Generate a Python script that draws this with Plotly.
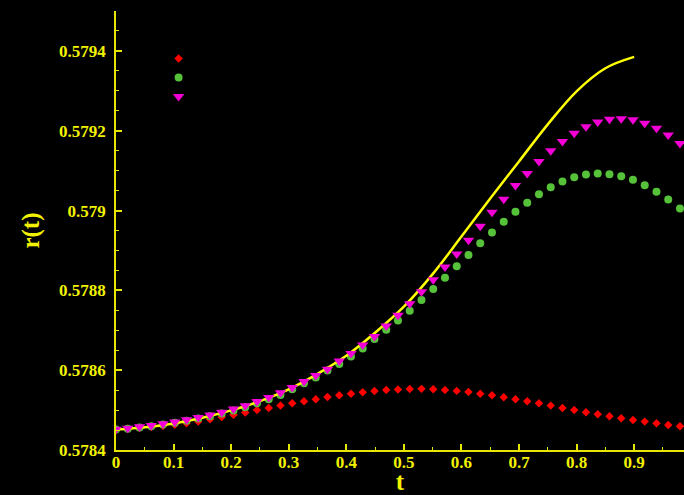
import numpy as np
import plotly.graph_objects as go

# time grid of the sampled series (step 1/49)
t_points = [k / 49 for k in range(49)]

r_red = [0.5784515, 0.5784532, 0.5784552, 0.5784577, 0.5784603, 0.5784633, 0.5784670,
         0.5784716, 0.5784771, 0.5784824, 0.5784884, 0.5784942, 0.5785002, 0.5785052,
         0.5785115, 0.5785170, 0.5785223, 0.5785273, 0.5785328, 0.5785373, 0.5785411,
         0.5785449, 0.5785476, 0.5785501, 0.5785516, 0.5785529, 0.5785532, 0.5785524,
         0.5785506, 0.5785481, 0.5785456, 0.5785411, 0.5785373, 0.5785323, 0.5785273,
         0.5785223, 0.5785173, 0.5785112, 0.5785055, 0.5785004, 0.5784947, 0.5784896,
         0.5784846, 0.5784796, 0.5784753, 0.5784711, 0.5784670, 0.5784628, 0.5784595]

r_green = [0.5784512, 0.5784532, 0.5784565, 0.5784598, 0.5784640, 0.5784683, 0.5784733,
           0.5784788, 0.5784844, 0.5784916, 0.5784992, 0.5785070, 0.5785170, 0.5785273,
           0.5785381, 0.5785524, 0.5785675, 0.5785815, 0.5785991, 0.5786152, 0.5786342,
           0.5786543, 0.5786779, 0.5787013, 0.5787246, 0.5787490, 0.5787758, 0.5788035,
           0.5788318, 0.5788602, 0.5788888, 0.5789180, 0.5789448, 0.5789717, 0.5789968,
           0.5790194, 0.5790410, 0.5790586, 0.5790729, 0.5790837, 0.5790904, 0.5790930,
           0.5790912, 0.5790862, 0.5790771, 0.5790636, 0.5790470, 0.5790277, 0.5790051]

r_magenta = [0.5784522, 0.5784545, 0.5784580, 0.5784615, 0.5784660, 0.5784703, 0.5784758,
             0.5784816, 0.5784874, 0.5784949, 0.5785027, 0.5785107, 0.5785213, 0.5785318,
             0.5785436, 0.5785564, 0.5785715, 0.5785865, 0.5786026, 0.5786227, 0.5786418,
             0.5786629, 0.5786845, 0.5787106, 0.5787377, 0.5787666, 0.5787967, 0.5788268,
             0.5788587, 0.5788913, 0.5789255, 0.5789606, 0.5789958, 0.5790284, 0.5790628,
             0.5790930, 0.5791231, 0.5791500, 0.5791733, 0.5791934, 0.5792102, 0.5792218,
             0.5792285, 0.5792303, 0.5792278, 0.5792185, 0.5792059, 0.5791891, 0.5791683]

# smooth reference curve
t_line = [0.0, 0.05, 0.1, 0.15, 0.2, 0.25, 0.3, 0.35, 0.4, 0.45,
          0.5, 0.55, 0.6, 0.65, 0.7, 0.75, 0.8, 0.85, 0.9]
r_line = [0.5784512, 0.5784570, 0.5784665, 0.5784808, 0.5784992, 0.5785223, 0.5785519,
          0.5785908, 0.5786360, 0.5786937, 0.5787590, 0.5788406, 0.5789348, 0.5790302,
          0.5791231, 0.5792160, 0.5792988, 0.5793566, 0.5793850]

x_tickvals = [0, 0.1, 0.2, 0.3, 0.4, 0.5, 0.6, 0.7, 0.8, 0.9]
x_ticktext = ["0", "0.1", "0.2", "0.3", "0.4", "0.5", "0.6", "0.7", "0.8", "0.9"]
y_tickvals = [0.5784, 0.5786, 0.5788, 0.5790, 0.5792, 0.5794]
y_ticktext = ["0.5784", "0.5786", "0.5788", "0.579", "0.5792", "0.5794"]

YELLOW = "#ffff00"
AXIS = "#e6e600"
FONT = "Liberation Serif"

fig = go.Figure()
fig.add_trace(go.Scatter(x=t_points, y=r_red, mode="markers", name="",
                         marker=dict(symbol="diamond", size=6.5, color="#ff0000")))
fig.add_trace(go.Scatter(x=t_points, y=r_green, mode="markers", name="",
                         marker=dict(symbol="circle", size=8, color="#55c23a")))
fig.add_trace(go.Scatter(x=t_line, y=r_line, mode="lines", showlegend=False,
                         line=dict(color=YELLOW, width=2.5, shape="spline")))
fig.add_trace(go.Scatter(x=t_points, y=r_magenta, mode="markers", name="",
                         marker=dict(symbol="triangle-down", size=10, color="#f200d6")))

tick_font = dict(family=FONT, size=17, color="#f2f200", weight="bold")
title_font = dict(family=FONT, size=25, color="#f2f200", weight="bold")

fig.update_layout(
    width=684, height=495,
    margin=dict(l=116, r=0, t=11, b=45),
    paper_bgcolor="black", plot_bgcolor="black",
    showlegend=True,
    legend=dict(x=0.075, y=0.925, xanchor="left", yanchor="top",
                bgcolor="rgba(0,0,0,0)", font=dict(size=12, color=YELLOW),
                itemwidth=30),
    xaxis=dict(range=[0, 0.9866], showgrid=False, zeroline=False, automargin=False,
               showline=True, linecolor=AXIS, linewidth=1.5,
               ticks="inside", ticklen=6, tickwidth=1.5, tickcolor=AXIS,
               tickvals=x_tickvals, ticktext=x_ticktext, tickfont=tick_font,
               ticklabelstandoff=-4,
               minor=dict(dtick=0.05, ticks="inside", ticklen=3, tickcolor=AXIS, tickwidth=1.2),
               title=dict(text="t", font=title_font, standoff=2)),
    yaxis=dict(range=[0.5784, 0.5795], showgrid=False, zeroline=False, automargin=False,
               showline=True, linecolor=AXIS, linewidth=1.5,
               ticks="inside", ticklen=6, tickwidth=1.5, tickcolor=AXIS,
               tickvals=y_tickvals, ticktext=y_ticktext, tickfont=tick_font,
               ticklabelstandoff=5,
               minor=dict(dtick=0.00005, tick0=0.5784, ticks="inside", ticklen=3,
                          tickcolor=AXIS, tickwidth=1.2),
               title=dict(text="r(t)", font=title_font, standoff=12)),
)

fig.write_html("out.html")
